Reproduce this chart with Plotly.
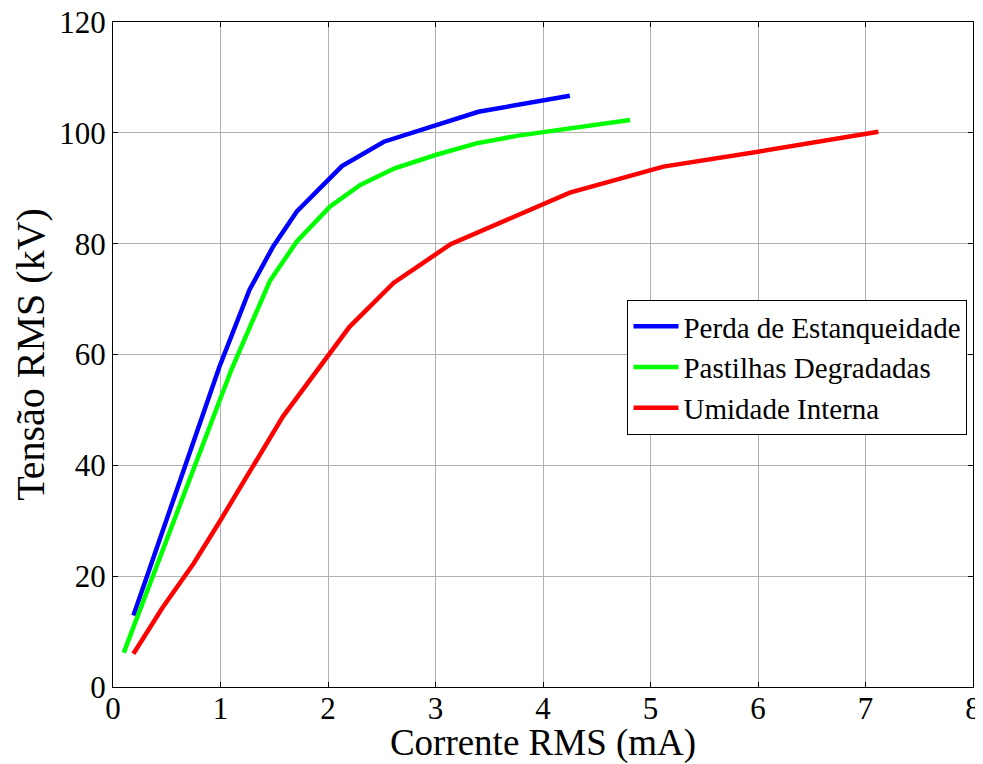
import plotly.graph_objects as go

# Perda de Estanqueidade
blue_x = [0.19, 0.99, 1.27, 1.49, 1.71, 2.13, 2.52, 3.40, 4.25]
blue_y = [12.9, 57.8, 71.7, 79.5, 85.8, 94.0, 98.4, 103.8, 106.7]

# Pastilhas Degradadas
green_x = [0.10, 1.10, 1.46, 1.71, 2.02, 2.30, 2.62, 3.00, 3.38, 3.77, 4.81]
green_y = [6.2, 57.2, 73.3, 80.4, 86.7, 90.6, 93.6, 96.0, 98.1, 99.5, 102.3]

# Umidade Interna
red_x = [0.19, 0.46, 0.75, 1.00, 1.58, 2.20, 2.61, 3.14, 4.25, 5.12, 6.00, 7.12]
red_y = [6.0, 14.3, 22.3, 30.1, 48.8, 65.0, 72.9, 79.9, 89.2, 93.9, 96.6, 100.2]

names = ["Perda de Estanqueidade", "Pastilhas Degradadas", "Umidade Interna"]
colors = ["#0000ff", "#00ff00", "#ff0000"]

x_ticks = [0, 1, 2, 3, 4, 5, 6, 7, 8]
y_ticks = [0, 20, 40, 60, 80, 100, 120]

FONT = "Liberation Serif, Times New Roman, serif"

fig = go.Figure()
for xs, ys, nm, c in zip([blue_x, green_x, red_x], [blue_y, green_y, red_y], names, colors):
    fig.add_trace(go.Scatter(x=xs, y=ys, mode="lines", name=nm,
                             line=dict(color=c, width=4.5)))

axis_common = dict(
    showline=True, linecolor="black", linewidth=1.2, mirror="ticks",
    ticks="inside", ticklen=5, tickcolor="black", tickwidth=1,
    showgrid=True, gridcolor="#b0b0b0", gridwidth=1,
    zeroline=False, automargin=False, ticklabeloverflow="allow",
    tickfont=dict(family=FONT, size=31, color="black"),
)

fig.update_xaxes(range=[0, 8], tickvals=x_ticks, ticktext=[str(v) for v in x_ticks],
                 ticklabelstandoff=-6,
                 title=dict(text="Corrente RMS (mA)", font=dict(family=FONT, size=37, color="black"), standoff=8),
                 **axis_common)
fig.update_yaxes(range=[0, 120], tickvals=y_ticks, ticktext=[str(v) for v in y_ticks],
                 title=dict(text="Tensão RMS (kV)", font=dict(family=FONT, size=40, color="black"), standoff=3),
                 **axis_common)

fig.update_layout(
    width=975, height=756,
    margin=dict(l=105, r=10, t=14, b=77),
    paper_bgcolor="white", plot_bgcolor="white",
    showlegend=True,
    legend=dict(x=0.9936, y=0.582, xanchor="right", yanchor="top",
                bgcolor="white", bordercolor="black", borderwidth=1,
                font=dict(family=FONT, size=29, color="black"),
                itemwidth=45, tracegroupgap=0),
)

fig.write_html("out.html")
